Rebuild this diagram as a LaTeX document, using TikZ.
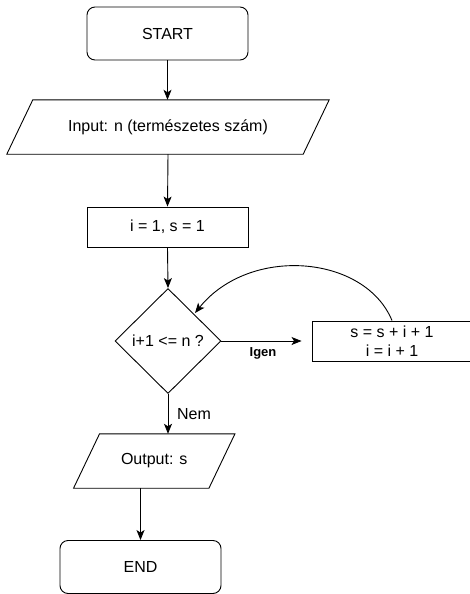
\documentclass[tikz,border=0pt]{standalone}
\usepackage{fontspec}
\setmainfont{Liberation Sans}
\usetikzlibrary{shapes.geometric,arrows.meta}
\begin{document}
\begin{tikzpicture}[x=1pt,y=-1pt,
  every node/.style={font=\fontsize{16}{19}\selectfont, inner sep=0pt},
  term/.style={draw, rounded corners=8pt, minimum width=161pt, minimum height=53pt, line width=0.9pt},
  proc/.style={draw, minimum width=161pt, minimum height=40pt, line width=0.9pt},
  io/.style={minimum height=54pt},
  dec/.style={draw, diamond, aspect=1, minimum width=106pt, minimum height=105pt, line width=0.9pt},
  conn/.style={line width=0.9pt, -{Stealth[length=10pt,width=8pt,inset=2.5pt]}},
  lbl/.style={font=\fontsize{16}{19}\selectfont}
]
\clip (0,0) rectangle (470,594);
\fill[white] (0,0) rectangle (470,594);

\node[term] (start) at (167.5,33.5) {START};
\node[io, minimum width=296pt] (in) at (168,127) {Input: n (természetes szám)};
\draw[line width=0.9pt] ([xshift=13pt]in.north west) -- ([xshift=13pt]in.north east)
  -- ([xshift=-13pt]in.south east) -- ([xshift=-13pt]in.south west) -- cycle;
\node[proc] (init) at (167.5,227) {i = 1, s = 1};
\node[dec] (dec) at (168,341) {i+1 <= n ?};
\node[proc, minimum width=160pt, minimum height=40pt, align=center] (upd) at (392,341) {s = s + i + 1\\i = i + 1};
\node[io, minimum width=135pt] (out) at (154.25,461) {Output: s};
\draw[line width=0.9pt] ([xshift=13pt]out.north west) -- ([xshift=13pt]out.north east)
  -- ([xshift=-13pt]out.south east) -- ([xshift=-13pt]out.south west) -- cycle;
\node[term] (end) at (140.5,567) {END};

\draw[conn] (start.south) -- (start.south |- in.north);
\draw[conn] (in.south) -- (init.north);
\draw[conn] (init.south) -- (dec.north);
\draw[conn, shorten >=10pt] (dec.east) -- (upd.west);
\node[font=\bfseries\fontsize{13}{15}\selectfont] (igen) at (263,353) {Igen};
\coordinate (back) at (195,313);
\draw[conn] (upd.north) .. controls (365,255) and (250,245) .. (back);
\draw[conn] (dec.south) -- (dec.south |- out.north);
\node[lbl] (nem) at (194,414) {Nem};
\draw[conn] (end.north |- out.south) -- (end.north);
\end{tikzpicture}
\end{document}
